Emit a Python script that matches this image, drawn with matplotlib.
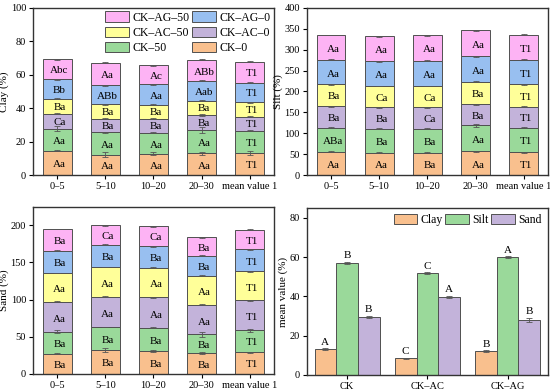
import numpy as np
import matplotlib.pyplot as plt

plt.rcParams['font.family'] = ['Liberation Serif', 'DejaVu Serif']
plt.rcParams['font.size'] = 7.5

depths = ['0–5', '5–10', '10–20', '20–30', 'mean value 1']
series = ['CK–0', 'CK–50', 'CK–AC–0', 'CK–AC–50', 'CK–AG–0', 'CK–AG–50']
colors = ['#F9C08E', '#9AD99A', '#C3B3DA', '#FFFF99', '#98BFF0', '#FDB3F4']

# segment values, one list per series (order of depths)
clay = [
    [14.5, 12.2, 12.8, 13.0, 13.2],
    [13.2, 13.3, 12.4, 14.2, 13.3],
    [9.0, 8.3, 8.6, 8.8, 8.5],
    [9.1, 8.5, 8.2, 8.5, 8.7],
    [11.4, 11.4, 12.2, 11.8, 11.6],
    [12.1, 13.5, 11.6, 12.7, 12.5],
]
clay_err = [
    [0.3, 1.5, 1.0, 0.8, 1.0],
    [1.5, 0.3, 0.3, 1.8, 0.3],
    [0.3, 0.3, 0.3, 0.4, 0.3],
    [0.3, 0.3, 0.3, 0.3, 0.3],
    [0.3, 0.3, 0.3, 0.3, 0.3],
    [0.3, 0.3, 0.3, 0.3, 0.3],
]
clay_lbl = [
    ['Aa', 'Aa', 'Aa', 'Aa', 'T1'],
    ['Aa', 'Aa', 'Aa', 'Aa', 'T1'],
    ['Ca', 'Ba', 'Ba', 'Ba', 'T1'],
    ['Ba', 'Ba', 'Ba', 'Ba', 'T1'],
    ['Bb', 'ABb', 'Aa', 'Aab', 'T1'],
    ['Abc', 'Aa', 'Ac', 'ABb', 'T1'],
]

silt = [
    [56, 54, 54, 57, 55],
    [57, 57, 57, 62, 58],
    [52, 51, 51, 50, 51],
    [52, 51, 51, 54, 53],
    [59, 59, 61, 61, 59],
    [59, 60, 60, 62, 60],
]
silt_err = [
    [1, 1, 1, 1, 1],
    [1, 1, 1, 3, 1],
    [1, 1, 1, 1, 1],
    [1, 1, 1, 1, 1],
    [1, 1, 1, 1, 1],
    [1, 1, 1, 1, 1],
]
silt_lbl = [
    ['Aa', 'Aa', 'Ba', 'Aa', 'T1'],
    ['ABa', 'Ba', 'Ba', 'Aa', 'T1'],
    ['Ba', 'Ba', 'Ca', 'Ba', 'T1'],
    ['Ba', 'Ca', 'Ca', 'Ba', 'T1'],
    ['Aa', 'Aa', 'Aa', 'Aa', 'T1'],
    ['Aa', 'Aa', 'Aa', 'Aa', 'T1'],
]

sand = [
    [27, 32, 31, 28, 29],
    [30, 31, 31, 25, 30],
    [40, 41, 41, 40, 40],
    [39, 40, 40, 39, 39],
    [30, 30, 29, 27, 30],
    [29, 26, 27, 25, 26],
]
sand_err = [
    [0.5, 3, 1.5, 1.5, 0.5],
    [2, 0.5, 0.5, 4, 2],
    [0.5, 0.5, 0.5, 0.5, 0.5],
    [0.5, 0.5, 0.5, 0.5, 0.5],
    [0.5, 0.5, 0.5, 0.5, 0.5],
    [0.5, 0.5, 0.5, 0.5, 0.5],
]
sand_lbl = [
    ['Ba', 'Ba', 'Ba', 'Ba', 'T1'],
    ['Ba', 'Ba', 'Ba', 'Ba', 'T1'],
    ['Aa', 'Aa', 'Aa', 'Aa', 'T1'],
    ['Aa', 'Aa', 'Aa', 'Aa', 'T1'],
    ['Ba', 'Ba', 'Ba', 'Ba', 'T1'],
    ['Ba', 'Ca', 'Ca', 'Ba', 'T1'],
]

groups = ['CK', 'CK–AC', 'CK–AG']
fractions = ['Clay', 'Silt', 'Sand']
mean_vals = [
    [13.2, 8.5, 12.0],
    [57.0, 51.7, 60.0],
    [29.7, 39.8, 28.0],
]
mean_err = [
    [0.3, 0.3, 0.5],
    [0.5, 0.5, 0.5],
    [0.5, 0.5, 1.0],
]
mean_lbl = [
    ['A', 'C', 'B'],
    ['B', 'C', 'A'],
    ['B', 'A', 'B'],
]

edge = '#505050'
spine = '#333333'


def style(ax):
    for s in ax.spines.values():
        s.set_color(spine)
        s.set_linewidth(1.0)
    ax.tick_params(direction='out', length=3, width=0.8, colors='black',
                   labelsize=7.5, pad=2)


def stacked(ax, data, err, lbls, ylabel, ylim, yticks):
    x = np.arange(len(depths))
    bottom = np.zeros(len(depths))
    for i, name in enumerate(series):
        vals = np.array(data[i], dtype=float)
        ax.bar(x, vals, 0.6, bottom=bottom, color=colors[i], edgecolor=edge,
               linewidth=0.7, label=name, zorder=2)
        ax.errorbar(x, bottom + vals, yerr=err[i], fmt='none', ecolor='#555555',
                    elinewidth=0.6, capsize=2, capthick=0.6, zorder=3)
        for j in range(len(depths)):
            ax.text(x[j] + 0.05, bottom[j] + vals[j] * 0.42, lbls[i][j],
                    ha='center', va='center', fontsize=8, zorder=4)
        bottom += vals
    ax.set_xlim(-0.5, len(depths) - 0.5)
    ax.set_ylim(*ylim)
    ax.set_yticks(yticks)
    ax.set_xticks(x)
    ax.set_xticklabels(depths)
    for t in ax.get_xticklabels()[-1:]:
        t.set_fontsize(6.5)
    ax.set_ylabel(ylabel, fontsize=8, labelpad=1)
    style(ax)


fig = plt.figure(figsize=(5.5, 3.91), dpi=100)
ax1 = fig.add_axes([0.060, 0.552, 0.438, 0.428])
ax2 = fig.add_axes([0.558, 0.552, 0.438, 0.428])
ax3 = fig.add_axes([0.060, 0.044, 0.438, 0.427])
ax4 = fig.add_axes([0.558, 0.041, 0.438, 0.427])

stacked(ax1, clay, clay_err, clay_lbl, 'Clay (%)', (0, 100), range(0, 101, 20))
stacked(ax2, silt, silt_err, silt_lbl, 'Silt (%)', (0, 400), range(0, 401, 50))
stacked(ax3, sand, sand_err, sand_lbl, 'Sand (%)', (0, 225), range(0, 201, 50))

h, l = ax1.get_legend_handles_labels()
order = [5, 3, 1, 4, 2, 0]
ax1.legend([h[k] for k in order], [l[k] for k in order], ncol=2, loc='upper right',
           frameon=False, fontsize=8.5, handlelength=2.0, handleheight=1.0,
           columnspacing=0.2, handletextpad=0.3, labelspacing=0.25,
           borderaxespad=0.2, borderpad=0.1)

# mean value panel
xg = np.arange(len(groups))
w = 0.27
for i, name in enumerate(fractions):
    vals = mean_vals[i]
    pos = xg + (i - 1) * w
    ax4.bar(pos, vals, w, color=colors[i], edgecolor=edge, linewidth=0.7,
            label=name, zorder=2)
    ax4.errorbar(pos, vals, yerr=mean_err[i], fmt='none', ecolor='#555555',
                 elinewidth=0.6, capsize=2, capthick=0.6, zorder=3)
    for j in range(len(groups)):
        ax4.text(pos[j], vals[j] + mean_err[i][j] + 0.8, mean_lbl[i][j],
                 ha='center', va='bottom', fontsize=8)
ax4.set_xlim(-0.5, len(groups) - 0.5)
ax4.set_ylim(0, 85)
ax4.set_yticks(range(0, 81, 20))
ax4.set_xticks(xg)
ax4.set_xticklabels(groups)
ax4.set_ylabel('mean value (%)', fontsize=8, labelpad=1)
style(ax4)
ax4.legend(ncol=3, loc='upper right', frameon=False, fontsize=8.5,
           handlelength=2.0, handleheight=1.0, columnspacing=0.2,
           handletextpad=0.3, borderaxespad=0.3, borderpad=0.2)

fig.savefig('out.png', dpi=100)
